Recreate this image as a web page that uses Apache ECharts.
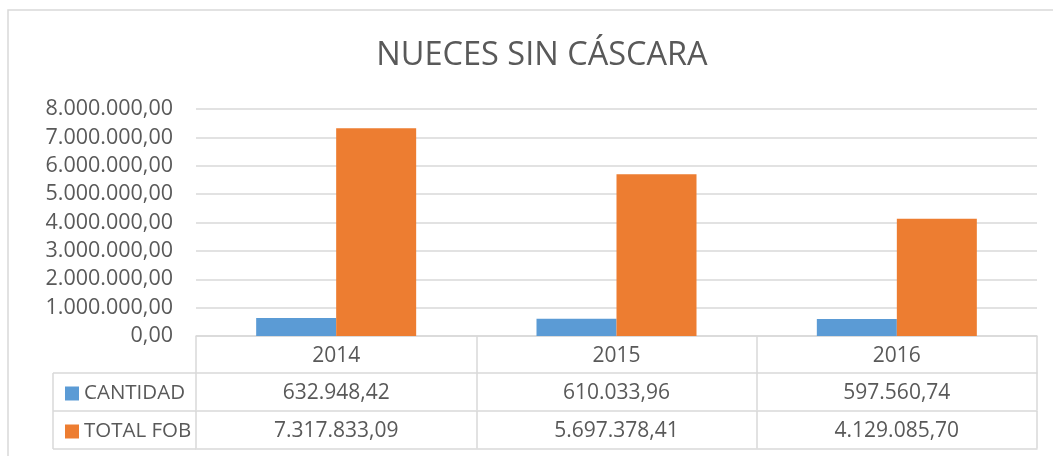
<!DOCTYPE html>
<html>
<head>
<meta charset="utf-8">
<script src="https://cdn.jsdelivr.net/npm/echarts@6/dist/echarts.min.js"></script>
<style>
html, body { margin: 0; padding: 0; background: #fff; }
#main { width: 1053px; height: 456px; }
</style>
</head>
<body>
<div id="main"></div>
<script>
var years = ['2014', '2015', '2016'];
var cantidad = [632948.42, 610033.96, 597560.74];
var totalFob = [7317833.09, 5697378.41, 4129085.70];
var seriesNames = ['CANTIDAD', 'TOTAL FOB'];

var txt = '#595959';
var line = '#d9d9d9';
var font = 'Open Sans';

// formato 1.234.567,89
function fmt(v) {
	var parts = v.toFixed(2).split('.');
	var ent = parts[0].replace(/\B(?=(\d{3})+(?!\d))/g, '.');
	return ent + ',' + parts[1];
}

function tableAxis(offset, fn, showTick) {
	return {
		type: 'category',
		data: years,
		position: 'bottom',
		offset: offset,
		axisLine: { show: true, lineStyle: { color: line, width: 1.5 } },
		axisTick: { show: showTick, length: 37.5, interval: 0, lineStyle: { color: line, width: 1.5 } },
		axisLabel: { show: !!fn, margin: 10, fontSize: 21, fontFamily: font, color: txt, formatter: fn },
		splitLine: { show: false }
	};
}

var myChart = echarts.init(document.getElementById('main'));
var option = {
	backgroundColor: '#fff',
	title: {
		text: 'NUECES SIN CÁSCARA',
		left: 537,
		top: 34,
		textAlign: 'center',
		textStyle: { fontSize: 32.5, fontWeight: 'normal', fontFamily: font, color: txt }
	},
	legend: {
		orient: 'vertical',
		left: 60,
		top: 378,
		itemGap: 17,
		itemWidth: 14,
		itemHeight: 14,
		icon: 'rect',
		selectedMode: false,
		textStyle: { fontSize: 20.5, lineHeight: 21, fontFamily: font, color: txt },
		data: seriesNames
	},
	grid: { left: 196, right: 16, top: 109, bottom: 120 },
	xAxis: [
		tableAxis(0, function (v) { return v; }, true),
		tableAxis(37, function (v, i) { return fmt(cantidad[i]); }, true),
		tableAxis(75, function (v, i) { return fmt(totalFob[i]); }, true),
		tableAxis(113, null, false)
	],
	yAxis: {
		type: 'value',
		min: 0,
		max: 8000000,
		interval: 1000000,
		axisLine: { show: false },
		axisTick: { show: false },
		axisLabel: { margin: 23, fontSize: 21.5, fontFamily: font, color: txt, formatter: function (v) { return fmt(v); } },
		splitLine: { lineStyle: { color: line, width: 1.5 } }
	},
	graphic: [
		{ type: 'rect', shape: { x: 8, y: 10, width: 1100, height: 500 }, style: { fill: null, stroke: line, lineWidth: 1.5 }, silent: true },
		{ type: 'line', shape: { x1: 53, y1: 373, x2: 196, y2: 373 }, style: { stroke: line, lineWidth: 1.5 } },
		{ type: 'line', shape: { x1: 53, y1: 411, x2: 196, y2: 411 }, style: { stroke: line, lineWidth: 1.5 } },
		{ type: 'line', shape: { x1: 53, y1: 449, x2: 196, y2: 449 }, style: { stroke: line, lineWidth: 1.5 } },
		{ type: 'line', shape: { x1: 53, y1: 373, x2: 53, y2: 449 }, style: { stroke: line, lineWidth: 1.5 } }
	],
	series: [
		{
			name: seriesNames[0],
			type: 'bar',
			barWidth: 80,
			barGap: '0%',
			itemStyle: { color: '#5B9BD5' },
			data: cantidad
		},
		{
			name: seriesNames[1],
			type: 'bar',
			barWidth: 80,
			barGap: '0%',
			itemStyle: { color: '#ED7D31' },
			data: totalFob
		}
	]
};
myChart.setOption(option);
</script>
</body>
</html>
